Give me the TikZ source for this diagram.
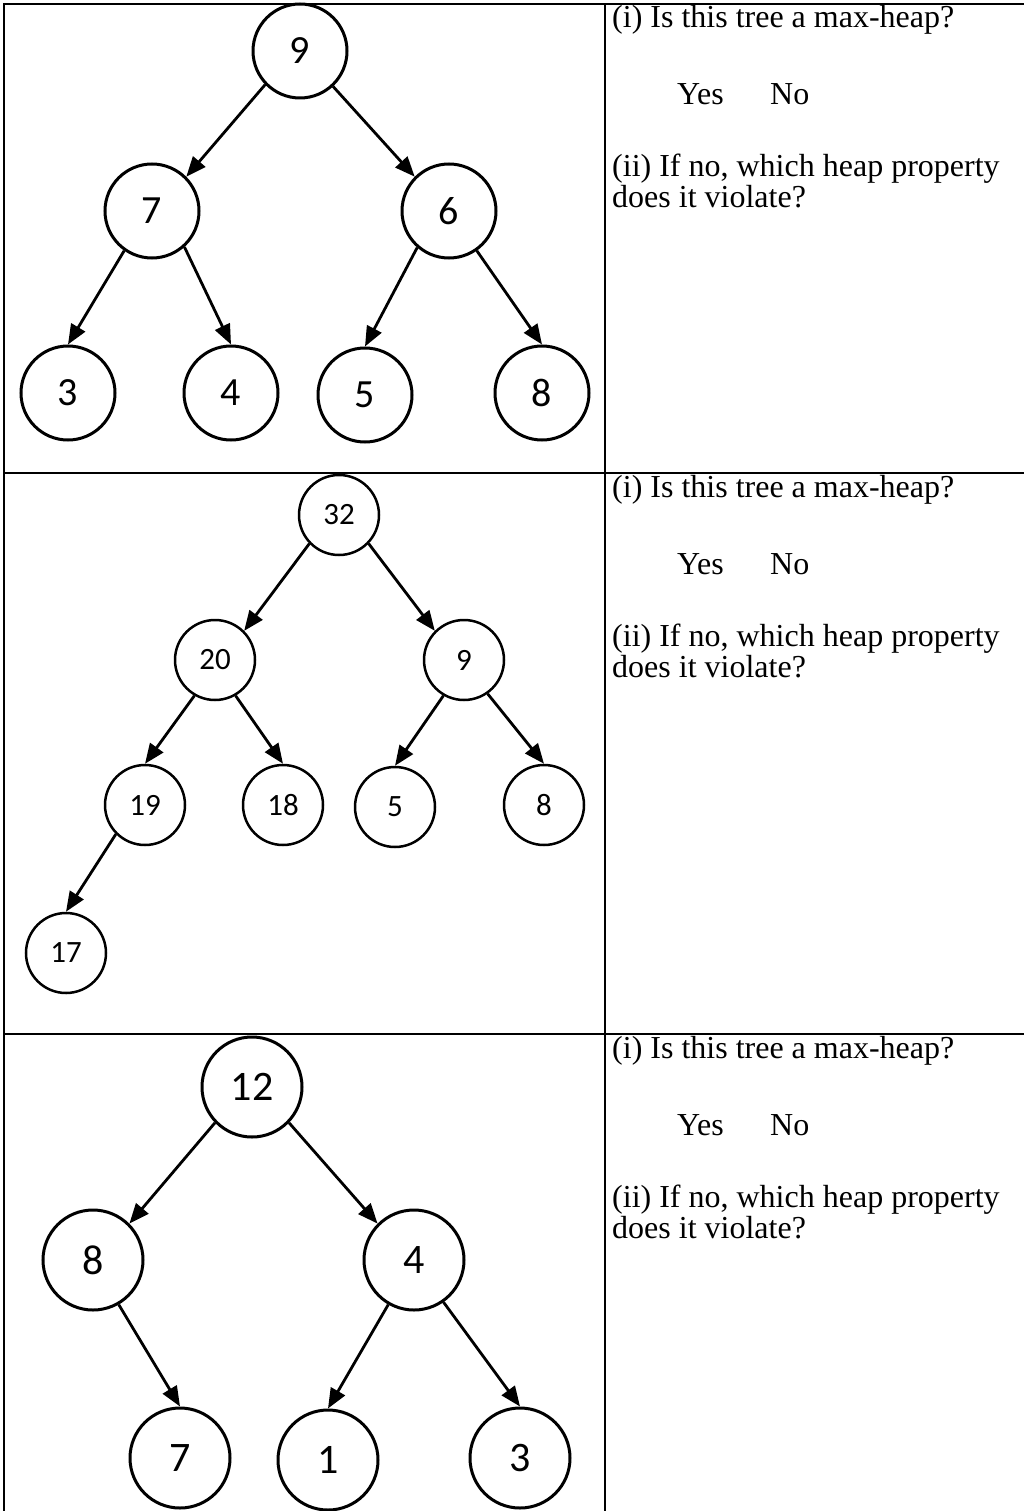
\documentclass[tikz,border=0pt]{standalone}
\usepackage{fontspec}
\setmainfont{Liberation Serif}
\newfontfamily\keyfont{Carlito}
\usetikzlibrary{arrows.meta}
\begin{document}
\begin{tikzpicture}[x=1pt,y=-1pt,
  rule/.style={line width=2.5pt},
  keyA/.style={circle,draw,line width=3pt,inner sep=0pt,minimum size=94pt,
    font=\keyfont\fontsize{40}{40}\selectfont},
  keyB/.style={circle,draw,line width=2.5pt,inner sep=0pt,minimum size=80pt,
    font=\keyfont\fontsize{31}{31}\selectfont},
  keyC/.style={circle,draw,line width=3pt,inner sep=0pt,minimum size=100pt,
    font=\keyfont\fontsize{42}{42}\selectfont},
  arr/.style={line width=2.8pt,-{Triangle[length=20pt,width=16pt]}},
  qtext/.style={anchor=base west,inner sep=0pt,font=\fontsize{32}{36}\selectfont},
]
\useasboundingbox (0,0) rectangle (1024,1511);

% table rules
\begin{scope}
\clip (0,0) rectangle (1024,1511);
\draw[rule] (4,4) rectangle (1040,1530);
\draw[rule] (605,4) -- (605,1530);
\draw[rule] (4,473) -- (1040,473);
\draw[rule] (4,1034) -- (1040,1034);
\end{scope}

% first tree
\node[keyA] (a9) at (300,51) {9};
\node[keyA] (a7) at (152,211) {7};
\node[keyA] (a6) at (449,211) {6};
\node[keyA] (a3) at (68,393) {3};
\node[keyA] (a4) at (231,393) {4};
\node[keyA] (a5) at (365,395) {5};
\node[keyA] (a8) at (542,393) {8};
\draw[arr] (a9.-136) -- (a7.45);
\draw[arr] (a9.-47) -- (a6.135);
\draw[arr] (a7.-125) -- (a3.north);
\draw[arr] (a7.-48) -- (a4.north);
\draw[arr] (a6.-131) -- (a5.north);
\draw[arr] (a6.-55) -- (a8.north);

% second tree
\node[keyB] (b32) at (339,515) {32};
\node[keyB] (b20) at (215,660) {20};
\node[keyB] (b9) at (464,660) {9};
\node[keyB] (b19) at (145,805) {19};
\node[keyB] (b18) at (283,805) {18};
\node[keyB] (b5) at (395,807) {5};
\node[keyB] (b8) at (544,805) {8};
\node[keyB] (b17) at (66,953) {17};
\draw[arr] (b32.-136) -- (b20.45);
\draw[arr] (b32.-44) -- (b9.135);
\draw[arr] (b20.-120) -- (b19.north);
\draw[arr] (b20.-60) -- (b18.north);
\draw[arr] (b9.-120) -- (b5.north);
\draw[arr] (b9.-55) -- (b8.north);
\draw[arr] (b19.-135) -- (b17.north);

% third tree
\node[keyC] (c12) at (252,1087) {12};
\node[keyC] (c8) at (93,1260) {8};
\node[keyC] (c4) at (414,1260) {4};
\node[keyC] (c7) at (180,1458) {7};
\node[keyC] (c1) at (328,1460) {1};
\node[keyC] (c3) at (520,1458) {3};
\draw[arr] (c12.-136) -- (c8.45);
\draw[arr] (c12.-44) -- (c4.135);
\draw[arr] (c8.-60) -- (c7.north);
\draw[arr] (c4.-120) -- (c1.north);
\draw[arr] (c4.-55) -- (c3.north);

% questions
\foreach \t/\r in {0/p,469/q,1030/r}{
  \node[qtext] (\r i) at (612,28+\t) {(i) Is this tree a max-heap?};
  \node[qtext] (\r y) at (677,105+\t) {Yes};
  \node[qtext] (\r n) at (770,105+\t) {No};
  \node[qtext] (\r ii) at (612,177+\t) {(ii) If no, which heap property};
  \node[qtext] (\r d) at (612,208+\t) {does it violate?};
}
\end{tikzpicture}
\end{document}
